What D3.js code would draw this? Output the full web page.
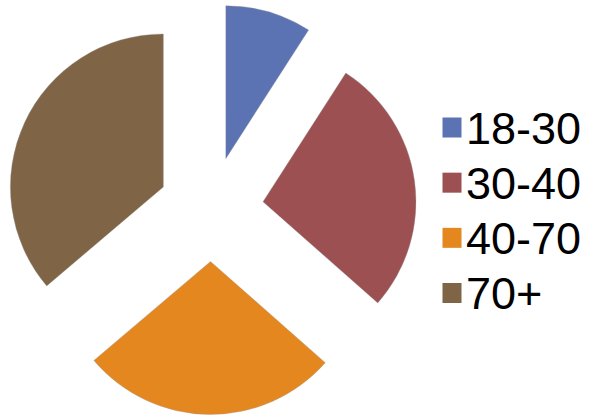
<!DOCTYPE html>
<html>
<head>
<meta charset="utf-8">
<script src="https://cdn.jsdelivr.net/npm/d3@7"></script>
<style>
  body { margin: 0; background: #fff; }
  svg { display: block; }
</style>
</head>
<body>
<div id="chart"></div>
<script>
// age groups and their share
const categories = ["18-30", "30-40", "40-70", "70+"];
const values = [9.1, 27.4, 27.3, 36.2];
const colors = ["#5B73B3", "#9C5052", "#E5871F", "#7F6446"];

const width = 590, height = 416;
const cx = 211, cy = 209, radius = 153, explode = 52.5;

const svg = d3.select("#chart").append("svg")
    .attr("width", width)
    .attr("height", height);

const pie = d3.pie().sort(null).value(d => d);
const arc = d3.arc().innerRadius(0).outerRadius(radius);
const color = d3.scaleOrdinal().domain(categories).range(colors);

const slices = pie(values).map((p, i) => ({ ...p, name: categories[i] }));

svg.append("g")
    .attr("transform", `translate(${cx},${cy})`)
    .selectAll("path")
    .data(slices)
    .enter().append("path")
    .attr("d", arc)
    .attr("transform", d => {
        const mid = (d.startAngle + d.endAngle) / 2;
        return `translate(${explode * Math.sin(mid)},${-explode * Math.cos(mid)})`;
    })
    .attr("fill", d => color(d.name))
    .attr("stroke", "#9a9a9a")
    .attr("stroke-width", 0.6)
    .attr("stroke-opacity", 0.6);

// legend
const legendY = d3.scalePoint().domain(categories).range([127.5, 293]);
const legend = svg.append("g").selectAll("g")
    .data(categories)
    .enter().append("g")
    .attr("transform", d => `translate(442,${legendY(d)})`);

legend.append("rect")
    .attr("x", 0.5).attr("y", -10)
    .attr("width", 19).attr("height", 20)
    .attr("fill", d => color(d));

legend.append("text")
    .attr("x", 24)
    .attr("dy", "0.36em")
    .attr("font-family", "Liberation Sans, Arial, sans-serif")
    .attr("font-size", 45)
    .attr("fill", "#000")
    .text(d => d);
</script>
</body>
</html>
